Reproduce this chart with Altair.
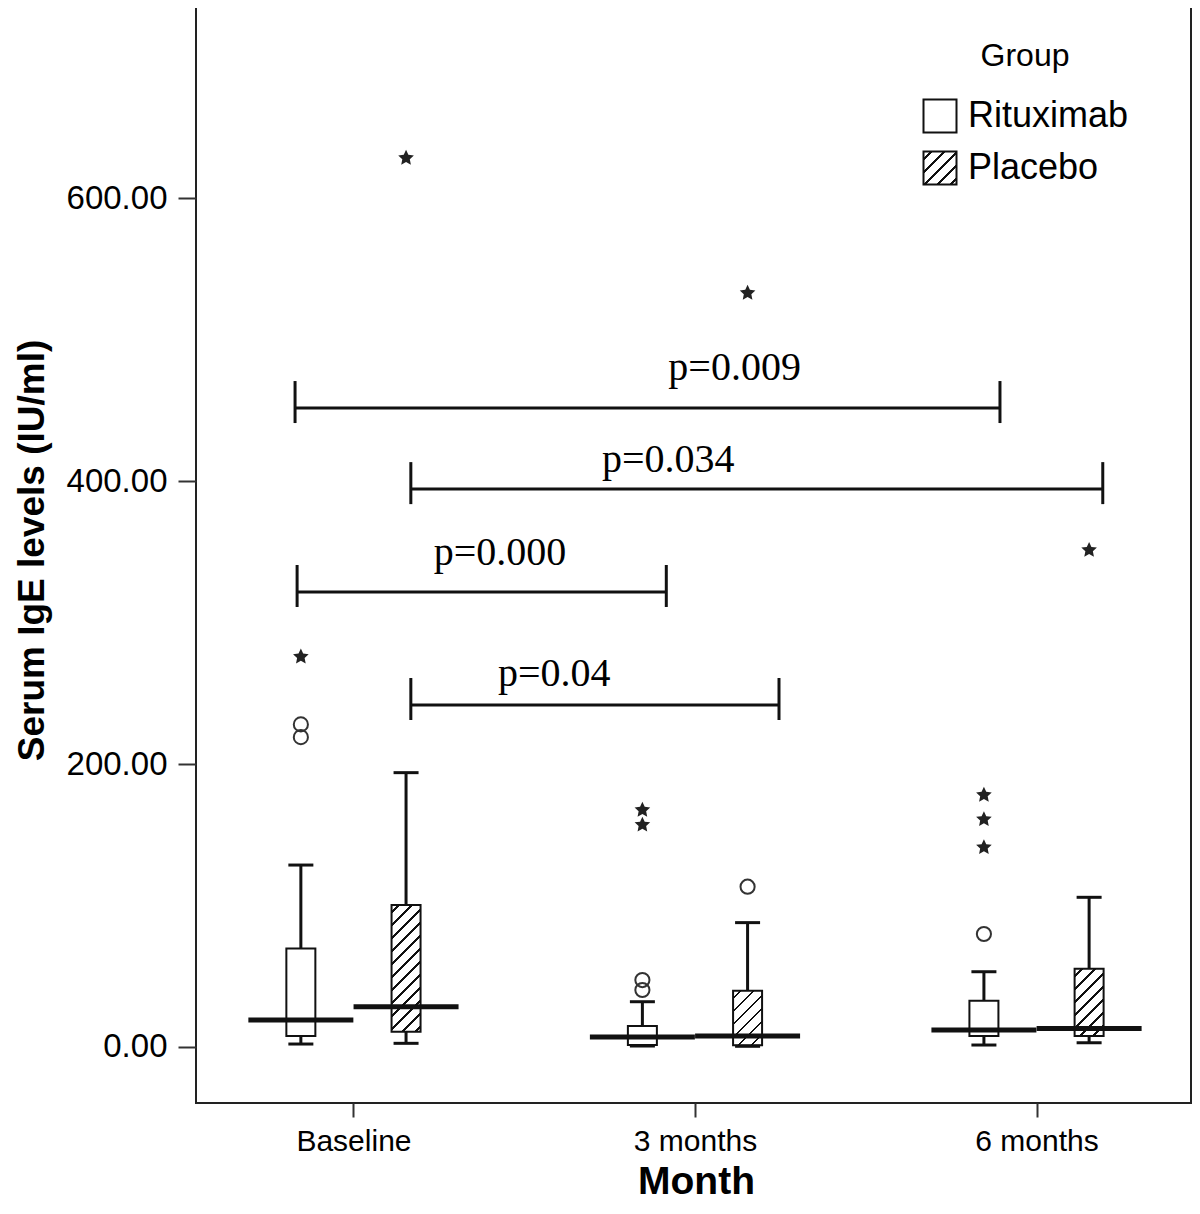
import json
import math
import altair as alt
import pandas as pd

# ---------------- data ----------------
months = ["Baseline", "3 months", "6 months"]
groups = ["Rituximab", "Placebo"]

# box-plot summaries, serum IgE (IU/ml)
rit_low = [2.1, 0.7, 1.4]
rit_q1 = [7.8, 1.5, 7.8]
rit_med = [19.1, 7.1, 12.0]
rit_q3 = [69.7, 14.8, 32.7]
rit_high = [128.6, 32.0, 53.2]

pla_low = [2.6, 0.5, 3.0]
pla_q1 = [10.8, 1.2, 7.8]
pla_med = [28.5, 7.8, 13.0]
pla_q3 = [100.4, 39.8, 55.3]
pla_high = [193.9, 87.9, 105.8]

# outliers (circles)
out_month = ["Baseline", "Baseline", "3 months", "3 months", "6 months", "3 months"]
out_group = ["Rituximab", "Rituximab", "Rituximab", "Rituximab", "Rituximab", "Placebo"]
out_value = [228.0, 219.0, 47.3, 40.3, 79.9, 113.3]

# extreme values (stars)
ext_month = ["Baseline", "Baseline", "3 months", "3 months", "3 months",
             "6 months", "6 months", "6 months", "6 months"]
ext_group = ["Rituximab", "Placebo", "Rituximab", "Rituximab", "Placebo",
             "Rituximab", "Rituximab", "Rituximab", "Placebo"]
ext_value = [275.8, 628.3, 167.5, 157.0, 532.9, 178.1, 160.9, 141.1, 351.2]

# significance brackets (x in month-axis units, y in IU/ml)
p_labels = ["p=0.009", "p=0.034", "p=0.000", "p=0.04"]
p_from = [-0.171, 0.168, -0.165, 0.168]
p_to = [1.893, 2.194, 0.916, 1.246]
p_level = [451.6, 394.3, 321.6, 241.7]
p_text_x = [1.116, 0.922, 0.429, 0.588]
p_text_y = [471.4, 406.4, 340.6, 255.1]

y_ticks = [0, 200, 400, 600]

# ---------------- layout / style ----------------
W, H = 995, 1104
XMIN, XMAX = -0.4464, 2.4377
YMIN, YMAX = -39.58, 740.7
GROUP_OFFSET = {"Rituximab": -0.154, "Placebo": 0.154}
BOX_W = 29
PX_PER_UNIT = H / (YMAX - YMIN)
INK = "#111111"

xscale = alt.Scale(domain=[XMIN, XMAX], nice=False, zero=False)
yscale = alt.Scale(domain=[YMIN, YMAX], nice=False, zero=False)


def pos(m, g):
    return months.index(m) + GROUP_OFFSET[g]


rows = []
for i, m in enumerate(months):
    rows.append(dict(month=m, group="Rituximab", x=pos(m, "Rituximab"), low=rit_low[i], q1=rit_q1[i],
                     med=rit_med[i], q3=rit_q3[i], high=rit_high[i]))
    rows.append(dict(month=m, group="Placebo", x=pos(m, "Placebo"), low=pla_low[i], q1=pla_q1[i],
                     med=pla_med[i], q3=pla_q3[i], high=pla_high[i]))
boxes = pd.DataFrame(rows)

outl = pd.DataFrame(dict(month=out_month, group=out_group, v=out_value))
outl["x"] = [pos(m, g) for m, g in zip(out_month, out_group)]
ext = pd.DataFrame(dict(month=ext_month, group=ext_group, v=ext_value))
ext["x"] = [pos(m, g) for m, g in zip(ext_month, ext_group)]

br = pd.DataFrame(dict(label=p_labels, x1=p_from, x2=p_to, y=p_level, tx=p_text_x, ty=p_text_y))
br_ends = pd.DataFrame(dict(x=p_from + p_to, y=p_level + p_level))


def hatch(w, h, period=13.0, lw=2.8):
    """Linear gradient emulating '/' hatching on a w x h pixel box."""
    L = w + h
    c = L / (w * w + h * h)
    stops = [{"offset": 0, "color": "white"}]
    s = period * 0.6
    while s < L:
        a = max(0.0, (s - lw / 2) / L)
        b = min(1.0, (s + lw / 2) / L)
        stops += [{"offset": round(a, 5), "color": "white"}, {"offset": round(a, 5), "color": INK},
                  {"offset": round(b, 5), "color": INK}, {"offset": round(b, 5), "color": "white"}]
        s += period
    stops.append({"offset": 1, "color": "white"})
    return {"gradient": "linear", "x1": 0, "y1": 0, "x2": round(c * w, 5), "y2": round(c * h, 5),
            "stops": stops}


star_pts = []
for k in range(10):
    ang = -math.pi / 2 + k * math.pi / 5
    r = 1.0 if k % 2 == 0 else 0.48
    star_pts.append(f"{r * math.cos(ang):.3f},{r * math.sin(ang):.3f}")
STAR = "M" + " L".join(star_pts) + " Z"

x_axis = alt.Axis(values=[0, 1, 2], labelExpr=json.dumps(months) + "[datum.value]",
                  tickSize=14, tickWidth=2, tickColor="#333", domain=False, grid=False,
                  labelFont="Liberation Sans", labelFontSize=30, labelColor="black",
                  labelPadding=9, labelFlush=False,
                  title="Month", titleFont="Liberation Sans", titleFontSize=39,
                  titleFontWeight="bold", titleColor="black", titleX=500, titleY=90,
                  titleBaseline="alphabetic", titleAlign="center")
y_axis = alt.Axis(values=y_ticks, format=".2f", tickSize=18, tickWidth=2, tickColor="#333",
                  domain=False, grid=False, labelFont="Liberation Sans", labelFontSize=33,
                  labelColor="black", labelPadding=11,
                  title="Serum IgE levels (IU/ml)", titleFont="Liberation Sans",
                  titleFontSize=37, titleFontWeight="bold", titleColor="black",
                  titleAngle=270, titleX=-164, titleY=551, titleAlign="center",
                  titleBaseline="middle")


def X(field):
    return alt.X(field, type="quantitative", scale=xscale, axis=x_axis)


def Y(field):
    return alt.Y(field, type="quantitative", scale=yscale, axis=y_axis)


base = alt.Chart(boxes)

whiskers = base.mark_rule(color=INK, strokeWidth=3).encode(x=X("x"), y=Y("low"), y2="high")

legend = alt.Legend(
    title="Group", orient="none", legendX=726, legendY=42, padding=0,
    symbolType="square", symbolSize=1089, symbolStrokeColor=INK, symbolStrokeWidth=2,
    symbolOpacity=1,
    labelFont="Liberation Sans", labelFontSize=36, labelColor="black", labelOffset=10,
    labelLimit=400,
    titleFont="Liberation Sans", titleFontSize=32, titleFontWeight="normal", titleColor="black",
    titleAnchor="middle", titlePadding=25, rowPadding=10)

legend_range = ["white", {"expr": json.dumps(hatch(33, 33))}]

rit_boxes = alt.Chart(boxes[boxes.group == "Rituximab"]).mark_bar(
    size=BOX_W, stroke=INK, strokeWidth=2, opacity=1).encode(
    x=X("x"), y=Y("q1"), y2="q3",
    fill=alt.Fill("group:N", scale=alt.Scale(domain=groups, range=legend_range), legend=legend))

pla_layers = []
for _, r in boxes[boxes.group == "Placebo"].iterrows():
    h_px = (r.q3 - r.q1) * PX_PER_UNIT
    pla_layers.append(
        alt.Chart(pd.DataFrame([r])).mark_bar(size=BOX_W, stroke=INK, strokeWidth=2, opacity=1,
                                              fill=hatch(BOX_W, h_px)).encode(
            x=X("x"), y=Y("q1"), y2="q3"))

caps_low = base.mark_tick(orient="horizontal", size=25, thickness=3, color=INK,
                          opacity=1).encode(x=X("x"), y=Y("low"))
caps_high = base.mark_tick(orient="horizontal", size=25, thickness=3, color=INK,
                           opacity=1).encode(x=X("x"), y=Y("high"))
medians = base.mark_tick(orient="horizontal", size=105, thickness=5, color=INK,
                         opacity=1).encode(x=X("x"), y=Y("med"))

circles = alt.Chart(outl).mark_point(shape="circle", filled=False, size=200, strokeWidth=2,
                                     color="#333", opacity=1).encode(x=X("x"), y=Y("v"))
stars = alt.Chart(ext).mark_point(shape=STAR, filled=True, size=270, color="#222",
                                  opacity=1).encode(x=X("x"), y=Y("v"))

br_lines = alt.Chart(br).mark_rule(color=INK, strokeWidth=3).encode(x=X("x1"), x2="x2", y=Y("y"))
br_caps = alt.Chart(br_ends).mark_tick(orient="vertical", size=42, thickness=3, color=INK,
                                       opacity=1, yOffset=-6).encode(x=X("x"), y=Y("y"))
br_text = alt.Chart(br).mark_text(font="Liberation Serif", fontSize=40, color="black",
                                  align="center", baseline="alphabetic").encode(
    x=X("tx"), y=Y("ty"), text="label:N")

chart = alt.layer(whiskers, rit_boxes, *pla_layers, caps_low, caps_high, medians,
                  circles, stars, br_lines, br_caps, br_text).properties(
    width=W, height=H,
    autosize=alt.AutoSizeParams(type="none"),
    padding={"left": 188, "top": -9, "right": 1, "bottom": 99},
    background="white",
).configure_view(stroke="#222", strokeWidth=2)

chart.save("out.html", embed_options={"renderer": "svg", "actions": False})
